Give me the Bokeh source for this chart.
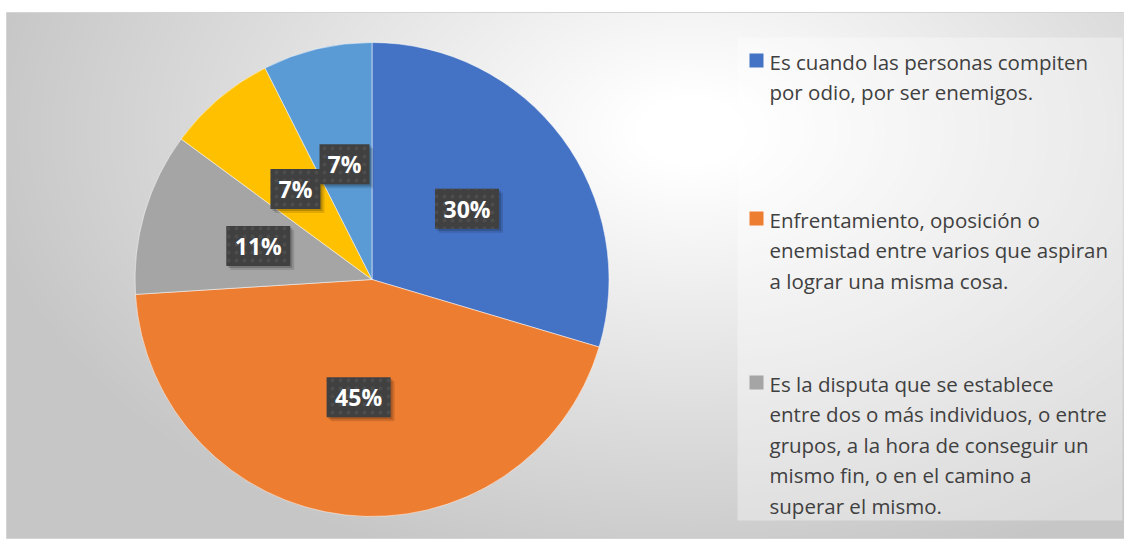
import numpy as np
from bokeh.plotting import figure
from bokeh.models import Range1d, ColumnDataSource
from bokeh.embed import file_html
from bokeh.resources import INLINE
from bokeh.core.properties import value

# ---------------- data ----------------
categories = [
    "Es cuando las personas compiten por odio, por ser enemigos.",
    "Enfrentamiento, oposición o enemistad entre varios que aspiran a lograr una misma cosa.",
    "Es la disputa que se establece entre dos o más individuos, o entre grupos, a la hora de conseguir un mismo fin, o en el camino a superar el mismo.",
    "Categoría 4",
    "Categoría 5",
]
shares = [29.6, 44.4, 11.1, 7.45, 7.45]
pct_labels = ["30%", "45%", "11%", "7%", "7%"]
colors = ["#4472C4", "#ED7D31", "#A5A5A5", "#FFC000", "#5B9BD5"]

legend_lines = [
    ["Es cuando las personas compiten", "por odio, por ser enemigos."],
    ["Enfrentamiento, oposición o", "enemistad entre varios que aspiran", "a lograr una misma cosa."],
    ["Es la disputa que se establece", "entre dos o más individuos, o entre",
     "grupos, a la hora de conseguir un", "mismo fin, o en el camino a", "superar el mismo."],
]

# ---------------- layout ----------------
W, H = 1124, 539
def sy(y):
    return H - y

p = figure(width=W, height=H, x_range=Range1d(0, W), y_range=Range1d(0, H),
           output_backend="svg", toolbar_location=None, min_border=0)
p.axis.visible = False
p.grid.visible = False
p.outline_line_color = None
p.background_fill_color = "white"
p.border_fill_color = "white"

# background radial gradient (style only)
gw, gh = 559, 263
xs = np.linspace(6, 1124, gw)
ys = np.linspace(538, 12, gh)
X, Y = np.meshgrid(xs, ys)
d = np.sqrt(((X - 690) / 700.0) ** 2 + ((Y - 130) / 450.0) ** 2)
t = np.clip((d - 0.08) / 0.95, 0, 1)
g = (255 - (255 - 198) * t).astype(np.uint8)
img = np.empty((gh, gw), dtype=np.uint32)
view = img.view(dtype=np.uint8).reshape((gh, gw, 4))
view[:, :, 0] = g
view[:, :, 1] = g
view[:, :, 2] = g
view[:, :, 3] = 255
p.image_rgba(image=[img], x=6, y=sy(538), dw=1118, dh=526)
p.quad(left=6, right=1124, top=sy(12), bottom=sy(538), fill_alpha=0,
       line_color="#d4d4d4", line_width=1)

# legend box
p.quad(left=737, right=1122, top=sy(37), bottom=sy(520), fill_color="white",
       fill_alpha=0.35, line_color=None)

# ---------------- pie ----------------
cx, cy, R = 371.5, sy(279), 237
vals = np.array(shares, dtype=float)
frac = vals / vals.sum()
cum = np.cumsum(frac)
prev = np.concatenate([[0.0], cum[:-1]])
starts = np.pi / 2 - 2 * np.pi * prev
ends = np.pi / 2 - 2 * np.pi * cum
src = ColumnDataSource(dict(start=starts, end=ends, color=colors, cat=categories))
p.wedge(x=cx, y=cy, radius=R, start_angle="start", end_angle="end", direction="clock",
        fill_color="color", line_color="white", line_alpha=0.5, line_width=1, source=src)

mid = (starts + ends) / 2
lx = cx + 0.5 * R * np.cos(mid)
ly = cy + 0.5 * R * np.sin(mid)
bw = [14 * len(s) + 22 for s in pct_labels]
lsrc = ColumnDataSource(dict(x=lx, y=ly, w=bw, t=pct_labels,
                             sx=lx + 4, sy=ly - 4, sx2=lx + 2, sy2=ly - 2))
p.rect(x="sx", y="sy", width="w", height=40, fill_color="black", fill_alpha=0.12,
       line_color=None, source=lsrc)
p.rect(x="sx2", y="sy2", width="w", height=40, fill_color="black", fill_alpha=0.18,
       line_color=None, source=lsrc)
p.rect(x="x", y="y", width="w", height=40, fill_color="#404040", line_color=None,
       hatch_pattern="dot", hatch_color="#4c4c4c", hatch_scale=8, hatch_weight=1,
       source=lsrc)
p.text(x="x", y="y", text="t", text_align="center", text_baseline="middle",
       text_font=value("Open Sans"), text_font_style="bold", text_font_size="23px",
       text_color="white", source=lsrc)

# ---------------- legend ----------------
entry_top = [61, 219, 383]
spacing = 30.5
sq_x, sq_y, tx, ty, tt = [], [], [], [], []
for i, lines in enumerate(legend_lines):
    sq_x.append(756)
    sq_y.append(sy(entry_top[i] - 1))
    for j, ln in enumerate(lines):
        tx.append(769)
        ty.append(sy(entry_top[i] + j * spacing))
        tt.append(ln)
p.rect(x=sq_x, y=sq_y, width=14, height=14, fill_color=colors[:3], line_color=None)
p.text(x=tx, y=ty, text=tt, text_baseline="middle", text_align="left",
       text_font=value("Open Sans"), text_font_size="20.5px", text_color="#404040")

open("out.html", "w").write(file_html(p, INLINE))
